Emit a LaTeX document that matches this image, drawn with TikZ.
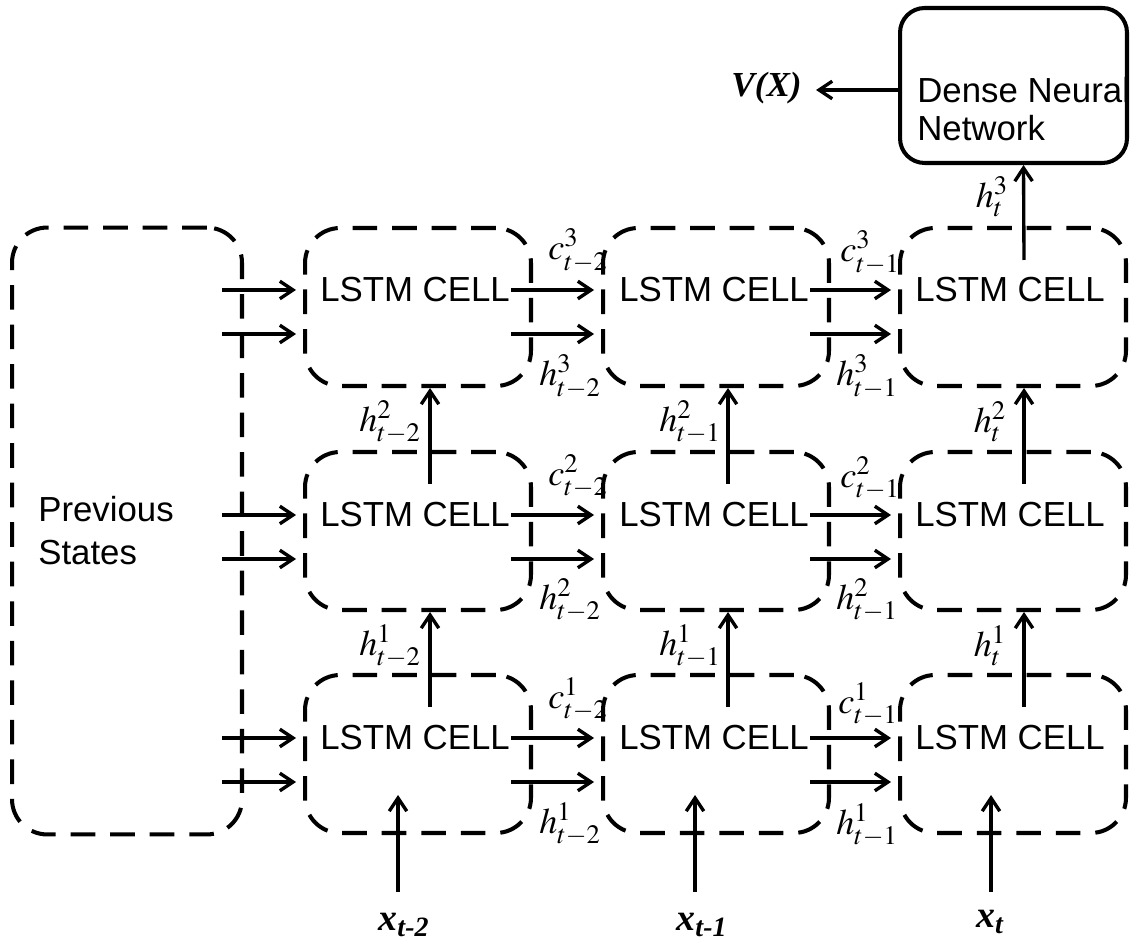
\documentclass[tikz,border=0pt]{standalone}
\usepackage{mathptmx}
\usepackage[no-math]{fontspec}
\setmainfont{Liberation Sans}
\newfontfamily\timesfont{Liberation Serif}
\usetikzlibrary{arrows.meta,calc}

\begin{document}
\begin{tikzpicture}[x=0.02cm, y=-0.02cm, >={Straight Barb[length=7.5pt,width=10pt]}, line join=round,
  cell/.style={draw, line width=2.3pt, dash pattern=on 14pt off 8.5pt, rounded corners=20pt,
    minimum width=4.52cm, minimum height=3.16cm, inner sep=0pt},
  txt/.style={font=\fontsize{19.8}{24.5}\selectfont, inner sep=0pt},
  var/.style={font=\fontsize{20.5}{24}\selectfont, inner sep=0pt},
  inp/.style={font=\fontsize{21.5}{24}\selectfont\timesfont\bfseries\itshape, inner sep=0pt},
  arr/.style={->, line width=1.9pt}]
  \useasboundingbox (0,0) rectangle (1136,945);
  % boxes
  \node[cell, minimum width=4.6cm, minimum height=12.14cm] (prev) at (127,531) {};
  \node[cell] (c13) at (418,307) {};
  \node[cell] (c23) at (716,307) {};
  \node[cell] (c33) at (1013,307) {};
  \node[cell] (c12) at (418,531) {};
  \node[cell] (c22) at (716,531) {};
  \node[cell] (c32) at (1013,531) {};
  \node[cell] (c11) at (418,754) {};
  \node[cell] (c21) at (716,754) {};
  \node[cell] (c31) at (1013,754) {};
  \node[draw, line width=2.3pt, rounded corners=14pt, minimum width=4.54cm, minimum height=3.1cm] (dnn) at (1013.5,85.5) {};
  % texts
  \node[txt, anchor=west, align=left] (ptxt) at (38,531) {Previous\\States};
  \node[txt, anchor=west, align=left, font=\fontsize{19.8}{21.6}\selectfont] (dtxt) at (917,109) {Dense Neural\\Network};
  \node[txt] (t13) at (415,290) {LSTM CELL};
  \node[txt] (t23) at (714,290) {LSTM CELL};
  \node[txt] (t33) at (1010,290) {LSTM CELL};
  \node[txt] (t12) at (415,515) {LSTM CELL};
  \node[txt] (t22) at (714,515) {LSTM CELL};
  \node[txt] (t32) at (1010,515) {LSTM CELL};
  \node[txt] (t11) at (415,738) {LSTM CELL};
  \node[txt] (t21) at (714,738) {LSTM CELL};
  \node[txt] (t31) at (1010,738) {LSTM CELL};
  % horizontal arrows
  \draw[arr] ($(prev.east |- t13)+(-22,0)$) -- ($(c13.west |- t13)+(-7,0)$);
  \draw[arr] ($(prev.east |- t13)+(-22,44)$) -- ($(c13.west |- t13)+(-7,44)$);
  \draw[arr] ($(prev.east |- t12)+(-22,0)$) -- ($(c12.west |- t12)+(-7,0)$);
  \draw[arr] ($(prev.east |- t12)+(-22,44)$) -- ($(c12.west |- t12)+(-7,44)$);
  \draw[arr] ($(prev.east |- t11)+(-22,0)$) -- ($(c11.west |- t11)+(-7,0)$);
  \draw[arr] ($(prev.east |- t11)+(-22,44)$) -- ($(c11.west |- t11)+(-7,44)$);
  \draw[arr] ($(t13.east)+(1,0)$) -- ($(c23.west |- t13)+(-7,0)$);
  \draw[arr] ($(t13.east)+(1,44)$) -- ($(c23.west |- t13)+(-7,44)$);
  \draw[arr] ($(t23.east)+(1,0)$) -- ($(c33.west |- t23)+(-7,0)$);
  \draw[arr] ($(t23.east)+(1,44)$) -- ($(c33.west |- t23)+(-7,44)$);
  \draw[arr] ($(t12.east)+(1,0)$) -- ($(c22.west |- t12)+(-7,0)$);
  \draw[arr] ($(t12.east)+(1,44)$) -- ($(c22.west |- t12)+(-7,44)$);
  \draw[arr] ($(t22.east)+(1,0)$) -- ($(c32.west |- t22)+(-7,0)$);
  \draw[arr] ($(t22.east)+(1,44)$) -- ($(c32.west |- t22)+(-7,44)$);
  \draw[arr] ($(t11.east)+(1,0)$) -- ($(c21.west |- t11)+(-7,0)$);
  \draw[arr] ($(t11.east)+(1,44)$) -- ($(c21.west |- t11)+(-7,44)$);
  \draw[arr] ($(t21.east)+(1,0)$) -- ($(c31.west |- t21)+(-7,0)$);
  \draw[arr] ($(t21.east)+(1,44)$) -- ($(c31.west |- t21)+(-7,44)$);
  % vertical arrows
  \draw[arr] ($(c11)+(12,-47)$) -- ($(c12.south)+(12,0)$);
  \draw[arr] ($(c21)+(12,-47)$) -- ($(c22.south)+(12,0)$);
  \draw[arr] ($(c31)+(11,-47)$) -- ($(c32.south)+(11,0)$);
  \draw[arr] ($(c12)+(12,-47)$) -- ($(c13.south)+(12,0)$);
  \draw[arr] ($(c22)+(12,-47)$) -- ($(c23.south)+(12,0)$);
  \draw[arr] ($(c32)+(11,-47)$) -- ($(c33.south)+(11,0)$);
  \draw[arr] ($(c33)+(11,-47)$) -- ($(dnn.south)+(10,0)$);
  % inputs and output
  \node[inp] (x1) at (404,925) {x\textsubscript{t-2}};
  \node[inp] (x2) at (702,925) {x\textsubscript{t-1}};
  \node[inp] (x3) at (990,922) {x\textsubscript{t}};
  \draw[arr] ($(c11.south)+(-20,57)$) -- ($(c11)+(-20,41)$);
  \draw[arr] ($(c21.south)+(-21,57)$) -- ($(c21)+(-21,41)$);
  \draw[arr] ($(c31.south)+(-22,57)$) -- ($(c31)+(-22,41)$);
  \node[inp, font=\fontsize{20}{24}\selectfont\timesfont\bfseries\itshape, anchor=east] (vx) at (802,88) {V(X)};
  \draw[arr, shorten >=8pt] ($(dnn.west)+(0,4.5)$) -- (vx.east |- {$(dnn.west)+(0,4.5)$});
  % labels
  \node[var] (lc13) at (578,251) {$c^{3}_{t-2}$};
  \node[var] (lh13) at (570,377) {$h^{3}_{t-2}$};
  \node[var] (lc23) at (870,253) {$c^{3}_{t-1}$};
  \node[var] (lh23) at (867,377) {$h^{3}_{t-1}$};
  \node[var] (lc12) at (578,476) {$c^{2}_{t-2}$};
  \node[var] (lh12) at (570,600) {$h^{2}_{t-2}$};
  \node[var] (lc22) at (870,478) {$c^{2}_{t-1}$};
  \node[var] (lh22) at (867,600) {$h^{2}_{t-1}$};
  \node[var] (lc11) at (578,699) {$c^{1}_{t-2}$};
  \node[var] (lh11) at (570,824) {$h^{1}_{t-2}$};
  \node[var] (lc21) at (868,704) {$c^{1}_{t-1}$};
  \node[var] (lh21) at (867,825) {$h^{1}_{t-1}$};
  \node[var] (lv12) at (390,422) {$h^{2}_{t-2}$};
  \node[var] (lv11) at (390,646) {$h^{1}_{t-2}$};
  \node[var] (lv22) at (690,422) {$h^{2}_{t-1}$};
  \node[var] (lv21) at (690,646) {$h^{1}_{t-1}$};
  \node[var] (lv32) at (990,422) {$h^{2}_{t}$};
  \node[var] (lv31) at (990,646) {$h^{1}_{t}$};
  \node[var] (lv33) at (992,197) {$h^{3}_{t}$};
\end{tikzpicture}
\end{document}
